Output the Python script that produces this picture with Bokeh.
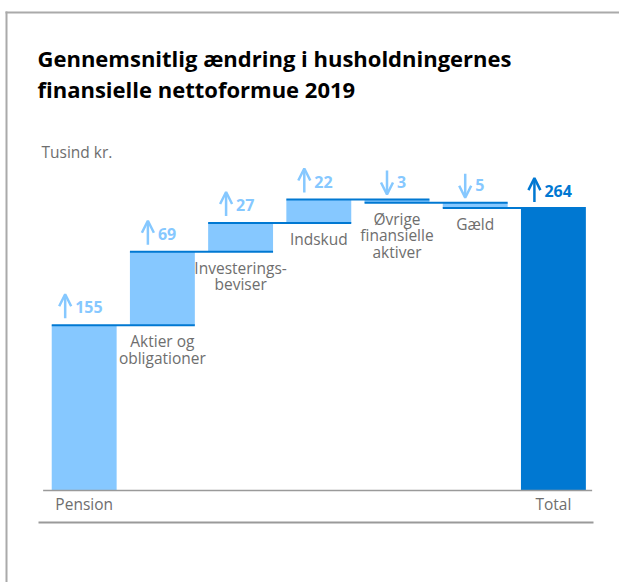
import numpy as np
from bokeh.plotting import figure
from bokeh.models import Range1d, Label, BoxAnnotation, Arrow, OpenHead, ColumnDataSource
from bokeh.core.properties import value
from bokeh.embed import file_html
from bokeh.resources import INLINE

# ---- data ----
categories = ["Pension", "Aktier og\nobligationer", "Investerings-\nbeviser", "Indskud",
              "Øvrige\nfinansielle\naktiver", "Gæld", "Total"]
changes = [155, 69, 27, 22, -3, -5, 264]
value_labels = ["155", "69", "27", "22", "3", "5", "264"]
title_lines = ["Gennemsnitlig ændring i husholdningernes", "finansielle nettoformue 2019"]
unit_label = "Tusind kr."

LIGHT = "#86c8ff"
DARK = "#0078d2"
GRAY_TXT = "#6e6e6e"
FONT = "Open Sans"

W, H = 619, 582
x_rng = Range1d(-1.070, 6.845)
y_rng = Range1d(-86.3, 459.7)
PXX = (x_rng.end - x_rng.start) / W
PXY = (y_rng.end - y_rng.start) / H

p = figure(width=W, height=H, x_range=x_rng, y_range=y_rng, output_backend="svg",
           toolbar_location=None, min_border=0, outline_line_color=None,
           x_axis_location=None, y_axis_location=None)
p.xgrid.visible = False
p.ygrid.visible = False
p.background_fill_color = "white"
p.border_fill_color = "white"

n = len(changes)
xs = np.arange(n)
starts, ends = [], []
cum = 0
for i, c in enumerate(changes):
    if i == n - 1:
        starts.append(0); ends.append(c)
    else:
        starts.append(cum); cum += c; ends.append(cum)
starts = np.array(starts, float); ends = np.array(ends, float)
tops = np.maximum(starts, ends); bots = np.minimum(starts, ends)
colors = [LIGHT] * (n - 1) + [DARK]
BW = 0.83

p.vbar(x=xs, width=BW, top=tops, bottom=bots, fill_color=colors, line_color=None)

# connectors
cx0 = xs[:-1] - BW / 2
cx1 = xs[1:] + BW / 2
p.segment(x0=cx0, x1=cx1, y0=ends[:-1], y1=ends[:-1], line_color=DARK, line_width=2)

# baseline
p.segment(x0=[xs[0] - BW / 2 - 0.11], x1=[xs[-1] + BW / 2 + 0.08], y0=[0], y1=[0],
          line_color="#9a9a9a", line_width=1.5)

# value labels with arrows
up = np.array(changes) > 0
digits = np.array([len(s) for s in value_labels])
grp_w = 15 + 4 + 9 * digits
arrow_off_px = -grp_w / 2 + 7.5 - 3.5
ax = xs + arrow_off_px * PXX
lab_cols = [LIGHT] * (n - 1) + [DARK]
ys0 = np.where(up, tops + 7 * PXY, tops + 29 * PXY)
ys1 = np.where(up, tops + 31 * PXY, tops + 5 * PXY)
for col in set(lab_cols):
    idx = [i for i in range(n) if lab_cols[i] == col]
    src = ColumnDataSource(dict(x=ax[idx], y0=ys0[idx], y1=ys1[idx]))
    p.add_layout(Arrow(end=OpenHead(size=12, line_width=2.5, line_color=col),
                       x_start="x", y_start="y0", x_end="x", y_end="y1",
                       line_color=col, line_width=2.5, source=src))
p.text(x=ax + 10 * PXX, y=tops + 18 * PXY, text=value_labels, text_color=lab_cols,
       text_font=value(FONT), text_font_size="16px", text_font_style="bold",
       text_align="left", text_baseline="middle")

# category labels
mid = list(range(1, n - 1))
p.text(x=xs[mid], y=bots[mid] - 5 * PXY, text=[categories[i] for i in mid],
       text_color=GRAY_TXT, text_font=value(FONT), text_font_size="15.5px",
       text_align="center", text_baseline="top", text_line_height=0.76)
ends_idx = [0, n - 1]
p.text(x=xs[ends_idx], y=[-13 * PXY] * 2, text=[categories[i] for i in ends_idx],
       text_color=GRAY_TXT, text_font=value(FONT), text_font_size="15.5px",
       text_align="center", text_baseline="middle")

# titles
for k, (t, yc) in enumerate(zip(title_lines, [57, 88])):
    p.add_layout(Label(x=37, y=H - yc, x_units="screen", y_units="screen", text=t,
                       text_font=FONT, text_font_size="22px", text_font_style="bold",
                       text_color="black", text_baseline="middle", text_align="left"))
p.add_layout(Label(x=41, y=H - 151, x_units="screen", y_units="screen", text=unit_label,
                   text_font=FONT, text_font_size="15.5px", text_color=GRAY_TXT,
                   text_baseline="middle", text_align="left"))

# card borders and separator
def hbox(l, r, t, b, c):
    p.add_layout(BoxAnnotation(left=l, right=r, top=H - t, bottom=H - b,
                               left_units="screen", right_units="screen",
                               top_units="screen", bottom_units="screen",
                               fill_color=c, fill_alpha=1, line_color=None, level="overlay"))
hbox(5, W, 11, 13, "#aaaaaa")
hbox(5, 7, 11, H, "#aaaaaa")
hbox(38, 593, 521, 523, "#9a9a9a")

open("out.html", "w").write(file_html(p, INLINE))
